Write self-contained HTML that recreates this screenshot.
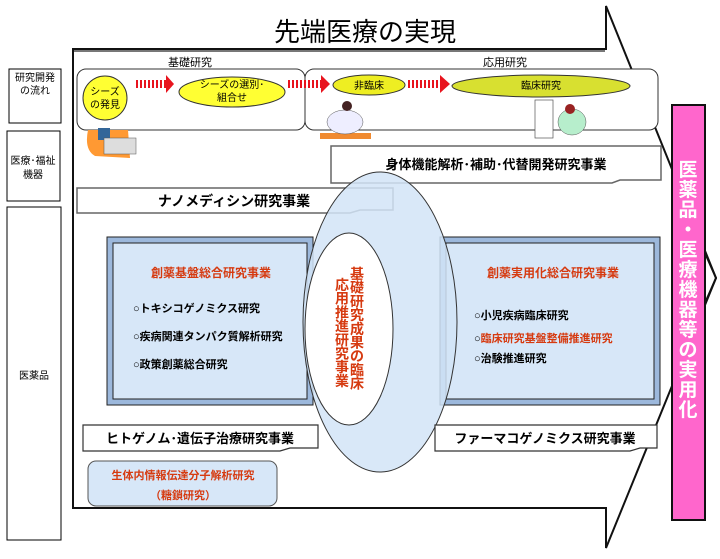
<!DOCTYPE html>
<html><head><meta charset="utf-8"><style>
html,body{margin:0;padding:0;background:#fff;}
body{width:720px;height:554px;overflow:hidden;}
svg text{font-family:"Liberation Sans","Noto Sans CJK JP",sans-serif;}
</style></head><body>
<svg width="720" height="554" viewBox="0 0 720 554" xmlns="http://www.w3.org/2000/svg">
<defs>
<pattern id="st" width="4" height="4" patternUnits="userSpaceOnUse"><rect width="4" height="4" fill="#fff"/><rect width="2" height="4" fill="#e8141e"/></pattern>
</defs>
<polygon points="73,49 606,49 606,6 716,278 606,548 606,508 73,508" fill="#fff" stroke="#111" stroke-width="2"/>
<rect x="74" y="50" width="531" height="2" fill="#777"/>
<text x="365" y="41" font-size="26" text-anchor="middle" fill="#000">先端医療の実現</text>

<rect x="9" y="69" width="52" height="54" fill="#fff" stroke="#000"/>
<text x="35" y="81" font-size="10" text-anchor="middle">研究開発</text>
<text x="35" y="94" font-size="10" text-anchor="middle">の流れ</text>
<rect x="7" y="131" width="53" height="70" fill="#fff" stroke="#000"/>
<text x="33" y="164" font-size="10" text-anchor="middle">医療･福祉</text>
<text x="33" y="178" font-size="10" text-anchor="middle">機器</text>
<rect x="7" y="207" width="54" height="333" fill="#fff" stroke="#000"/>
<text x="34" y="379" font-size="10" text-anchor="middle">医薬品</text>

<text x="190" y="66" font-size="11" text-anchor="middle">基礎研究</text>
<text x="505" y="66" font-size="11" text-anchor="middle">応用研究</text>
<rect x="77" y="69" width="228" height="61" rx="9" fill="#fff" stroke="#333"/>
<rect x="305" y="69" width="353" height="61" rx="9" fill="#fff" stroke="#333"/>
<ellipse cx="105" cy="98" rx="22" ry="22" fill="#ffff33" stroke="#333"/>
<text x="105" y="95" font-size="10" text-anchor="middle">シーズ</text>
<text x="105" y="108" font-size="10" text-anchor="middle">の発見</text>
<rect x="134" y="80" width="34" height="8" fill="url(#st)"/><polygon points="166,75 174,84 166,93" fill="#e8141e"/>
<ellipse cx="232" cy="92" rx="53" ry="15" fill="#ffff33" stroke="#333"/>
<text x="232" y="88" font-size="10" text-anchor="middle">シーズの選別･</text>
<text x="232" y="101" font-size="10" text-anchor="middle">組合せ</text>
<rect x="288" y="80" width="36" height="8" fill="url(#st)"/><polygon points="321,75 330,84 321,93" fill="#e8141e"/>
<ellipse cx="369" cy="85" rx="36" ry="10" fill="#eeee22" stroke="#333"/>
<text x="369" y="89" font-size="10" text-anchor="middle">非臨床</text>
<rect x="406" y="80" width="37" height="8" fill="url(#st)"/><polygon points="440,75 450,84 440,93" fill="#e8141e"/>
<ellipse cx="541" cy="86" rx="89" ry="11" fill="#d8e030" stroke="#333"/>
<text x="541" y="89" font-size="10" text-anchor="middle">臨床研究</text>

<path d="M88,130 Q84,150 95,156 L130,158 L128,130 Z" fill="#ff9933"/>
<rect x="98" y="128" width="12" height="12" fill="#336699"/>
<rect x="104" y="138" width="32" height="16" fill="#ddd" stroke="#555" stroke-width="0.5"/>
<rect x="320" y="133" width="51" height="6" fill="#f08a30"/>
<ellipse cx="345" cy="122" rx="18" ry="12" fill="#eef" stroke="#555" stroke-width="0.5"/>
<circle cx="347" cy="106" r="5" fill="#422"/>
<rect x="535" y="100" width="18" height="38" fill="#fff" stroke="#555" stroke-width="0.7"/>
<ellipse cx="572" cy="122" rx="14" ry="13" fill="#b7eecc" stroke="#555" stroke-width="0.5"/>
<circle cx="570" cy="109" r="5" fill="#922"/>

<polygon points="331,146 661,146 661,180 620,180 612,183 331,183" fill="#fff" stroke="#666" stroke-width="1.5"/>
<text x="496" y="169" font-size="13" font-weight="bold" text-anchor="middle">身体機能解析･補助･代替開発研究事業</text>
<polygon points="77,188 393,188 393,210 360,210 350,213 77,213" fill="#fff" stroke="#666" stroke-width="1.5"/>
<text x="234" y="206" font-size="14" font-weight="bold" text-anchor="middle">ナノメディシン研究事業</text>

<rect x="107" y="237" width="206" height="168" fill="#9cb8dc" stroke="#222"/>
<rect x="113" y="243" width="194" height="156" fill="#d7e7f8" stroke="#222"/>
<rect x="440" y="237" width="220" height="168" fill="#9cb8dc" stroke="#222"/>
<rect x="446" y="243" width="208" height="156" fill="#d7e7f8" stroke="#222"/>

<ellipse cx="380" cy="322" rx="77" ry="150" fill="#d2e4f7" fill-opacity="0.85" stroke="#333"/>
<ellipse cx="349" cy="329" rx="44" ry="96" fill="#fff" stroke="#333"/>

<text x="211" y="277" font-size="12" font-weight="bold" fill="#d63a10" text-anchor="middle">創薬基盤総合研究事業</text>
<text x="133" y="312" font-size="11" font-weight="bold">○トキシコゲノミクス研究</text>
<text x="133" y="340" font-size="11" font-weight="bold">○疾病関連タンパク質解析研究</text>
<text x="133" y="368" font-size="11" font-weight="bold">○政策創薬総合研究</text>

<text x="553" y="277" font-size="12" font-weight="bold" fill="#d63a10" text-anchor="middle">創薬実用化総合研究事業</text>
<text x="474" y="319" font-size="11" font-weight="bold">○小児疾病臨床研究</text>
<text x="474" y="342" font-size="11" font-weight="bold">○<tspan fill="#d63a10">臨床研究基盤整備推進研究</tspan></text>
<text x="474" y="362" font-size="11" font-weight="bold">○治験推進研究</text>

<g font-size="14" font-weight="bold" fill="#d63a10" text-anchor="middle">
<text x="357" y="279">基</text><text x="357" y="292.7">礎</text><text x="357" y="306.4">研</text><text x="357" y="320.1">究</text><text x="357" y="333.8">成</text><text x="357" y="347.5">果</text><text x="357" y="361.2">の</text><text x="357" y="374.9">臨</text><text x="357" y="388.6">床</text>
<text x="342" y="290">応</text><text x="342" y="303.7">用</text><text x="342" y="317.4">推</text><text x="342" y="331.1">進</text><text x="342" y="344.8">研</text><text x="342" y="358.5">究</text><text x="342" y="372.2">事</text><text x="342" y="385.9">業</text>
</g>

<polygon points="83,425 318,425 318,448 290,448 280,451 83,451" fill="#fff" stroke="#333" stroke-width="1.2"/>
<text x="200" y="443" font-size="13" font-weight="bold" text-anchor="middle">ヒトゲノム･遺伝子治療研究事業</text>
<polygon points="435,425 657,425 657,448 640,448 630,451 435,451" fill="#fff" stroke="#333" stroke-width="1.2"/>
<text x="545" y="443" font-size="13" font-weight="bold" text-anchor="middle">ファーマコゲノミクス研究事業</text>

<rect x="88" y="461" width="189" height="45" rx="8" fill="#d7e7f8" stroke="#555"/>
<text x="183" y="479" font-size="11" font-weight="bold" fill="#d63a10" text-anchor="middle">生体内情報伝達分子解析研究</text>
<text x="183" y="499" font-size="11" font-weight="bold" fill="#d63a10" text-anchor="middle">（糖鎖研究）</text>

<rect x="672" y="105" width="33" height="415" fill="#ff66cc" stroke="#111" stroke-width="2"/>
<g font-size="19" font-weight="bold" fill="#fff" text-anchor="middle">
<text x="688" y="176">医</text><text x="688" y="196">薬</text><text x="688" y="216">品</text><text x="688" y="236">・</text><text x="688" y="256">医</text><text x="688" y="276">療</text><text x="688" y="296">機</text><text x="688" y="316">器</text><text x="688" y="336">等</text><text x="688" y="356">の</text><text x="688" y="376">実</text><text x="688" y="396">用</text><text x="688" y="416">化</text>
</g>
<polyline points="705,253 716,278 705,303" fill="none" stroke="#111" stroke-width="2"/>
</svg>
</body></html>
